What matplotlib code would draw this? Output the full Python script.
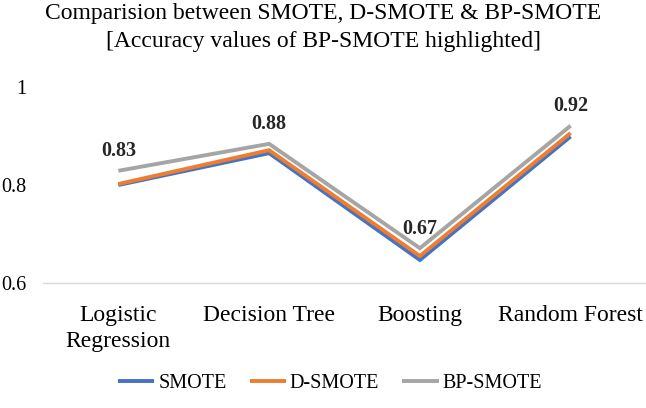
import matplotlib.pyplot as plt
import numpy as np

plt.rcParams['font.family'] = ['Liberation Serif', 'DejaVu Serif']

categories = ['Logistic\nRegression', 'Decision Tree', 'Boosting', 'Random Forest']
smote = [0.800, 0.865, 0.647, 0.899]
d_smote = [0.802, 0.871, 0.655, 0.906]
bp_smote = [0.829, 0.884, 0.671, 0.921]

series_names = ['SMOTE', 'D-SMOTE', 'BP-SMOTE']
colors = ['#4472C4', '#ED7D31', '#A5A5A5']

fig = plt.figure(figsize=(6.46, 4.08), dpi=100)
ax = fig.add_axes([43 / 646, 1 - 283 / 408, 1 - 43 / 646, (283 - 87) / 408])

x = np.arange(len(categories)) + 0.5
for vals, name, col in zip([smote, d_smote, bp_smote], series_names, colors):
    ax.plot(x, vals, color=col, linewidth=2.8, label=name, solid_joinstyle='miter',
            solid_capstyle='butt', clip_on=False)

for xi, v in zip(x, bp_smote):
    ax.annotate(f"{v:.2f}", (xi, v), xytext=(0, 14), textcoords='offset points',
                ha='center', va='center', fontsize=14.5, fontweight='bold', color='#262626')

ax.set_xlim(0, len(categories))
ax.set_ylim(0.6, 1.0)
ax.set_yticks([0.6, 0.8, 1.0])
ax.set_yticklabels(['0.6', '0.8', '1'], fontsize=14.5)
ax.set_xticks(x)
ax.set_xticklabels(categories, fontsize=17, linespacing=1.3)
ax.tick_params(axis='both', length=0)
ax.tick_params(axis='y', pad=12)
ax.tick_params(axis='x', pad=16)

for s in ['top', 'right', 'left']:
    ax.spines[s].set_visible(False)
ax.spines['bottom'].set_color('#D9D9D9')
ax.spines['bottom'].set_linewidth(1.0)

fig.text(0.5, 1 - 13 / 408, 'Comparision between SMOTE, D-SMOTE & BP-SMOTE',
         ha='center', va='center', fontsize=17)
fig.text(0.5, 1 - 42 / 408, '[Accuracy values of BP-SMOTE highlighted]',
         ha='center', va='center', fontsize=17)

fig.legend(loc='center', bbox_to_anchor=(330 / 646, 1 - 383 / 408), ncol=3, frameon=False,
           fontsize=14.5, handlelength=1.8, handletextpad=0.2, columnspacing=1.15)

fig.savefig('out.png', dpi=100)
